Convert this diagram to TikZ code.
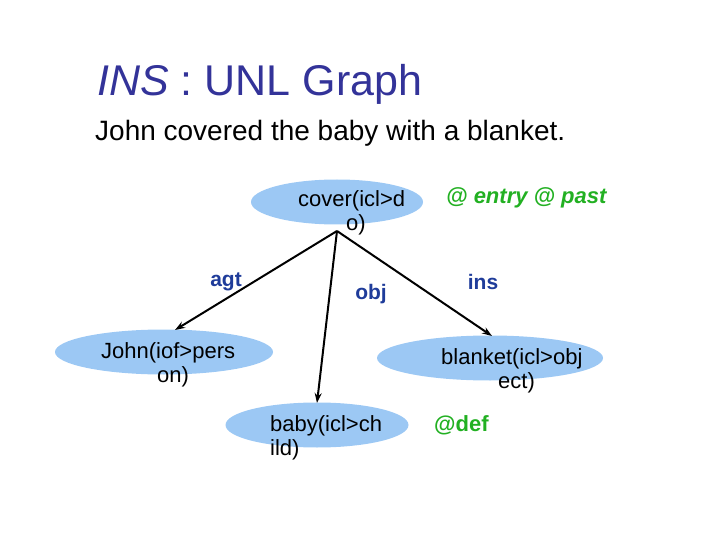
\documentclass[tikz,border=0pt]{standalone}
\usepackage{fontspec}
\setmainfont{Liberation Sans}
\usetikzlibrary{shapes.geometric,arrows.meta}
\definecolor{ell}{HTML}{9CC8F4}
\definecolor{lab}{HTML}{1F3C9A}
\definecolor{grn}{HTML}{22B022}
\definecolor{ttl}{HTML}{333399}
\tikzset{x=1pt,y=-1pt,
 el/.style={ellipse,fill=ell,inner sep=0pt},
 txt/.style={font=\fontsize{22}{24}\selectfont,inner sep=0pt,align=left},
 rel/.style={font=\bfseries\fontsize{21}{24}\selectfont,text=lab,inner sep=0pt},
 att/.style={font=\bfseries\fontsize{22}{24}\selectfont,text=grn,inner sep=0pt},
 arr/.style={-{Stealth[length=10pt,width=7pt]},line width=2pt}}
\begin{document}
\begin{tikzpicture}
\useasboundingbox (0,0) rectangle (720,540);
\node[anchor=west,text=ttl,font=\fontsize{43}{48}\selectfont,inner sep=0pt] (title) at (97,84) {\textit{INS} : UNL Graph};
\node[anchor=west,font=\fontsize{28}{32}\selectfont,inner sep=0pt] (sent) at (95,133) {John covered the baby with a blanket.};
\node[el,minimum width=172pt,minimum height=45pt] (cover) at (337,202) {};
\node[el,minimum width=218pt,minimum height=45pt] (john) at (164,352) {};
\node[el,minimum width=226pt,minimum height=45pt] (blanket) at (490,358) {};
\node[el,minimum width=183pt,minimum height=45pt] (baby) at (317,425) {};
\coordinate (src) at (337,231);
\node[txt,anchor=north west] (ct) at (298,190) {cover(icl>d\\\hspace*{48pt}o)};
\node[txt,anchor=north west] (jt) at (101,342) {John(iof>pers\\\hspace*{56pt}on)};
\node[txt,anchor=north west] (bt) at (441,348) {blanket(icl>obj\\\hspace*{57pt}ect)};
\node[txt,anchor=north west] (yt) at (270,415) {baby(icl>ch\\ild)};
\coordinate (je) at (175,330);
\coordinate (be) at (492,336);
\coordinate (ye) at (317,403);
\draw[arr] (src) -- (je);
\draw[arr] (src) -- (ye);
\draw[arr] (src) -- (be);
\node[rel] (agt) at (226,282) {agt};
\node[rel] (obj) at (371,294) {obj};
\node[rel] (ins) at (483,282) {ins};
\node[att,anchor=west] (entry) at (446,198) {\itshape @ entry @ past};
\node[att,anchor=west] (def) at (434,425) {@def};
\end{tikzpicture}
\end{document}
